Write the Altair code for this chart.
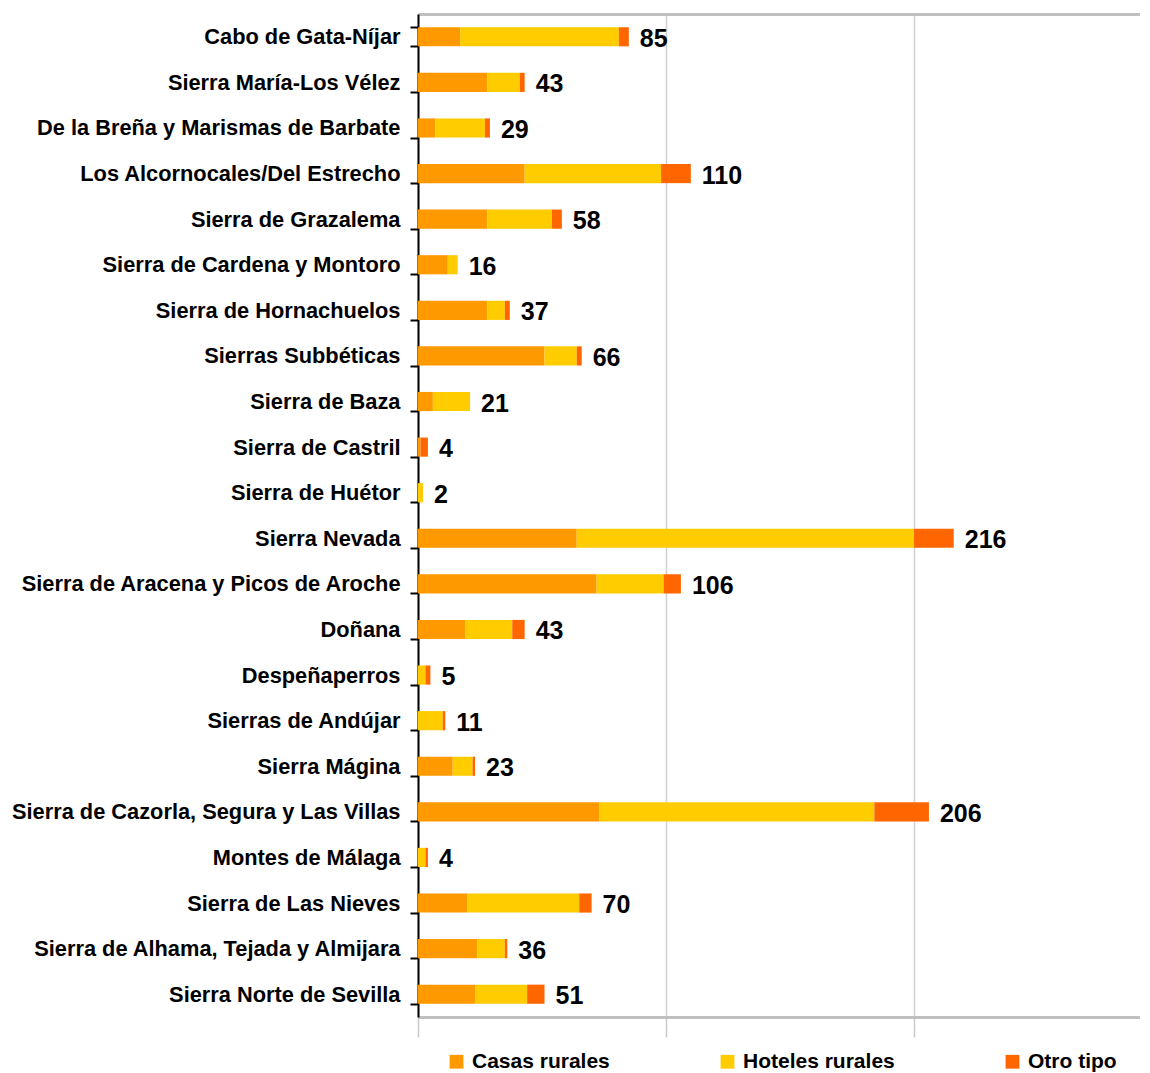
import altair as alt
import pandas as pd

categories = [
    "Cabo de Gata-Níjar",
    "Sierra María-Los Vélez ",
    "De la Breña y Marismas de Barbate",
    "Los Alcornocales/Del Estrecho",
    "Sierra de Grazalema",
    "Sierra de Cardena y Montoro",
    "Sierra de Hornachuelos",
    "Sierras Subbéticas",
    "Sierra de Baza",
    "Sierra de Castril",
    "Sierra de Huétor",
    "Sierra Nevada",
    "Sierra de Aracena y Picos de Aroche",
    "Doñana",
    "Despeñaperros",
    "Sierras de Andújar",
    "Sierra Mágina",
    "Sierra de Cazorla, Segura y Las Villas",
    "Montes de Málaga",
    "Sierra de Las Nieves",
    "Sierra de Alhama, Tejada y Almijara",
    "Sierra Norte de Sevilla",
]
casas = [17, 28, 7, 43, 28, 12, 28, 51, 6, 1, 0, 64, 72, 19, 0, 0, 14, 73, 0, 20, 24, 23]
hoteles = [64, 13, 20, 55, 26, 4, 7, 13, 15, 0, 2, 136, 27, 19, 3, 10, 8, 111, 3, 45, 11, 21]
otro = [4, 2, 2, 12, 4, 0, 2, 2, 0, 3, 0, 16, 7, 5, 2, 1, 1, 22, 1, 5, 1, 7]
totals = [85, 43, 29, 110, 58, 16, 37, 66, 21, 4, 2, 216, 106, 43, 5, 11, 23, 206, 4, 70, 36, 51]
series_names = ["Casas rurales", "Hoteles rurales", "Otro tipo"]
series_colors = ["#FF9900", "#FFCC00", "#FF6600"]

rows = []
for i, c in enumerate(categories):
    for k, vals in enumerate([casas, hoteles, otro]):
        rows.append({"cat": c, "serie": series_names[k], "value": vals[i], "ord": k})
df = pd.DataFrame(rows)
tot = pd.DataFrame({"cat": categories, "total": totals})

FONT = "Liberation Sans"

y_enc = alt.Y(
    "cat:N",
    sort=categories,
    title=None,
    scale=alt.Scale(paddingInner=0.58, paddingOuter=0.29),
    axis=alt.Axis(
        domainColor="black",
        domainWidth=2,
        tickColor="black",
        tickWidth=2,
        tickSize=8,
        tickBand="extent",
        labelFont=FONT,
        labelFontSize=21.8,
        labelFontWeight="bold",
        labelColor="black",
        labelPadding=10,
        labelLimit=600,
        grid=False,
    ),
)

xscale = alt.Scale(domain=[0, 291.1], nice=False, zero=True)

bars = alt.Chart(df).mark_bar().encode(
    x=alt.X(
        "value:Q",
        stack="zero",
        scale=xscale,
        title=None,
        axis=alt.Axis(
            values=[0, 100, 200],
            labels=False,
            ticks=True,
            tickSize=20,
            tickColor="#C8C8C8",
            tickWidth=1.5,
            grid=True,
            gridColor="#D0D0D0",
            gridWidth=1.5,
            domainColor="#C0C0C0",
            domainWidth=3,
        ),
    ),
    y=y_enc,
    color=alt.Color(
        "serie:N",
        scale=alt.Scale(domain=series_names, range=series_colors),
        legend=alt.Legend(
            title=None,
            orient="none",
            legendX=28,
            legendY=1037,
            direction="horizontal",
            symbolType="square",
            symbolSize=190,
            symbolStrokeWidth=0,
            labelFont=FONT,
            labelFontSize=21,
            labelFontWeight="bold",
            labelColor="black",
            labelOffset=5,
            columnPadding=107,
            labelLimit=400,
        ),
    ),
    order=alt.Order("ord:Q"),
)

text = alt.Chart(tot).mark_text(
    align="left", baseline="middle", dx=11, dy=2, fontSize=25, fontWeight="bold", font=FONT, color="black"
).encode(
    x=alt.X(
        "total:Q",
        scale=xscale,
        title=None,
        axis=alt.Axis(
            orient="top",
            labels=False,
            ticks=False,
            grid=False,
            domainColor="#C0C0C0",
            domainWidth=3,
        ),
    ),
    y=y_enc,
    text="total:Q",
)

chart = (
    alt.layer(bars, text)
    .resolve_axis(x="independent")
    .properties(
        width=722,
        height=1003,
        padding={"left": 410, "top": 6, "right": 0, "bottom": 56},
        autosize=alt.AutoSizeParams(type="none"),
    )
    .configure_view(stroke="transparent", strokeWidth=0)
    .configure(font=FONT)
)

chart.save("out.html", embed_options={"renderer": "svg", "actions": False})
